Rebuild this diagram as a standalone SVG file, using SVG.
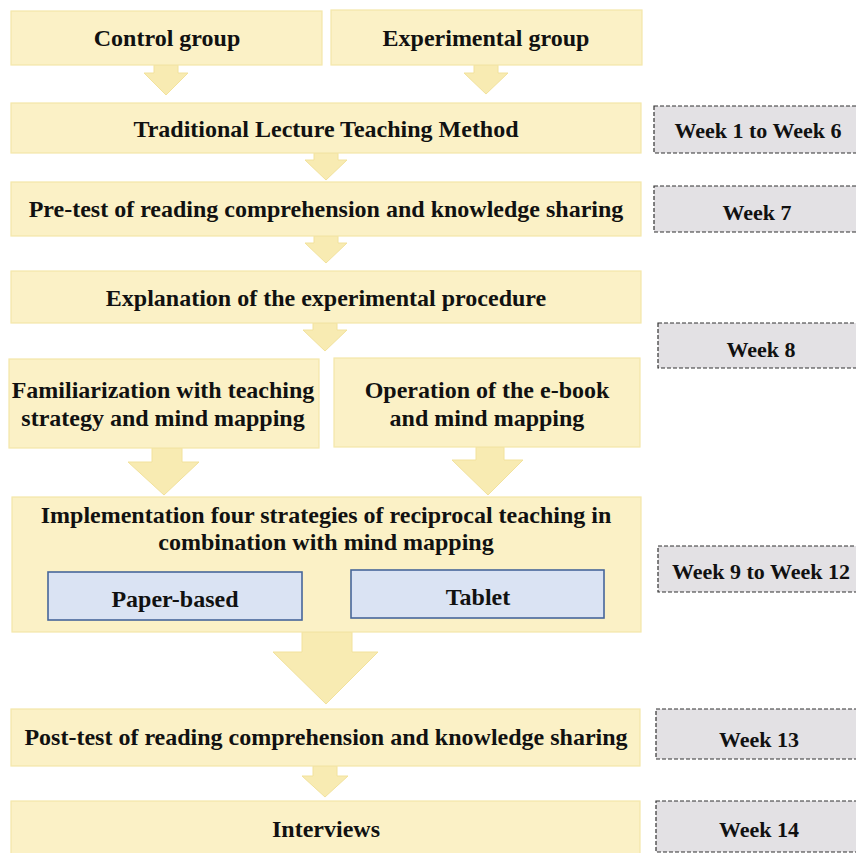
<svg xmlns="http://www.w3.org/2000/svg" width="856" height="853" viewBox="0 0 856 853">
<style>
.box{fill:#fbf1c6;stroke:#f4e7a8;stroke-width:1.2}
.wk{fill:#e3e1e4;stroke:#333;stroke-width:1.2;stroke-dasharray:4 2}
.blue{fill:#dae3f3;stroke:#46669a;stroke-width:1.6}
.arr{fill:#f8ebb2;stroke:#f2e29c;stroke-width:1}
text{font-family:"Liberation Serif","Times New Roman",serif;font-weight:bold;font-size:24px;fill:#111;text-anchor:middle}
text.w{font-size:22px}
</style>
<rect width="856" height="853" fill="#fff"/>
<g id="connectors">
<path class="arr" d="M154,65 H178 V73 H188 L166,95 L144,73 H154 Z"/>
<path class="arr" d="M474,65 H498 V73 H508 L486,94 L464,73 H474 Z"/>
<path class="arr" d="M314,153 H338 V160 H347 L326,180 L305,160 H314 Z"/>
<path class="arr" d="M314,236 H338 V243 H347 L326,263 L305,243 H314 Z"/>
<path class="arr" d="M313,323 H337 V330 H347 L325,351 L303,330 H313 Z"/>
<path class="arr" d="M152,448 H182 V462 H199 L164,495 L128,462 H152 Z"/>
<path class="arr" d="M476,447 H504 V460 H523 L488,495 L452,460 H476 Z"/>
<path class="arr" d="M302,632 H352 V652 H378 L326,704 L273,652 H302 Z"/>
<path class="arr" d="M313,766 H337 V776 H348 L325,797 L302,776 H313 Z"/>
</g>
<g id="control"><rect class="box" x="11" y="11" width="311" height="54"/><text x="167" y="46">Control group</text></g>
<g id="experimental"><rect class="box" x="331" y="10" width="311" height="55"/><text x="486" y="46">Experimental group</text></g>
<g id="traditional"><rect class="box" x="11" y="103" width="630" height="50"/><text x="326" y="137">Traditional Lecture Teaching Method</text></g>
<g id="week1-6"><rect class="wk" x="654" y="106" width="210" height="47"/><text class="w" x="758" y="138">Week 1 to Week 6</text></g>
<g id="pretest"><rect class="box" x="11" y="182" width="630" height="54"/><text x="326" y="217">Pre-test of reading comprehension and knowledge sharing</text></g>
<g id="week7"><rect class="wk" x="654" y="186" width="210" height="46"/><text class="w" x="757" y="220">Week 7</text></g>
<g id="explanation"><rect class="box" x="11" y="271" width="630" height="52"/><text x="326" y="306">Explanation of the experimental procedure</text></g>
<g id="week8"><rect class="wk" x="658" y="323" width="206" height="45"/><text class="w" x="761" y="357">Week 8</text></g>
<g id="familiarization"><rect class="box" x="9" y="359" width="310" height="89"/><text x="163" y="398">Familiarization with teaching</text><text x="163" y="426">strategy and mind mapping</text></g>
<g id="operation"><rect class="box" x="334" y="358" width="306" height="89"/><text x="487" y="398">Operation of the e-book</text><text x="487" y="426">and mind mapping</text></g>
<g id="implementation"><rect class="box" x="12" y="497" width="629" height="135"/><text x="326" y="523">Implementation four strategies of reciprocal teaching in</text><text x="326" y="550">combination with mind mapping</text>
<g id="paper"><rect class="blue" x="48" y="572" width="254" height="48"/><text x="175" y="607">Paper-based</text></g>
<g id="tablet"><rect class="blue" x="351" y="570" width="253" height="48"/><text x="478" y="605">Tablet</text></g>
</g>
<g id="week9-12"><rect class="wk" x="658" y="546" width="206" height="46"/><text class="w" x="761" y="579">Week 9 to Week 12</text></g>
<g id="posttest"><rect class="box" x="11" y="709" width="629" height="57"/><text x="326" y="745">Post-test of reading comprehension and knowledge sharing</text></g>
<g id="week13"><rect class="wk" x="656" y="709" width="208" height="50"/><text class="w" x="759" y="747">Week 13</text></g>
<g id="interviews"><rect class="box" x="11" y="801" width="629" height="60"/><text x="326" y="837">Interviews</text></g>
<g id="week14"><rect class="wk" x="656" y="801" width="208" height="51"/><text class="w" x="759" y="837">Week 14</text></g>
</svg>
